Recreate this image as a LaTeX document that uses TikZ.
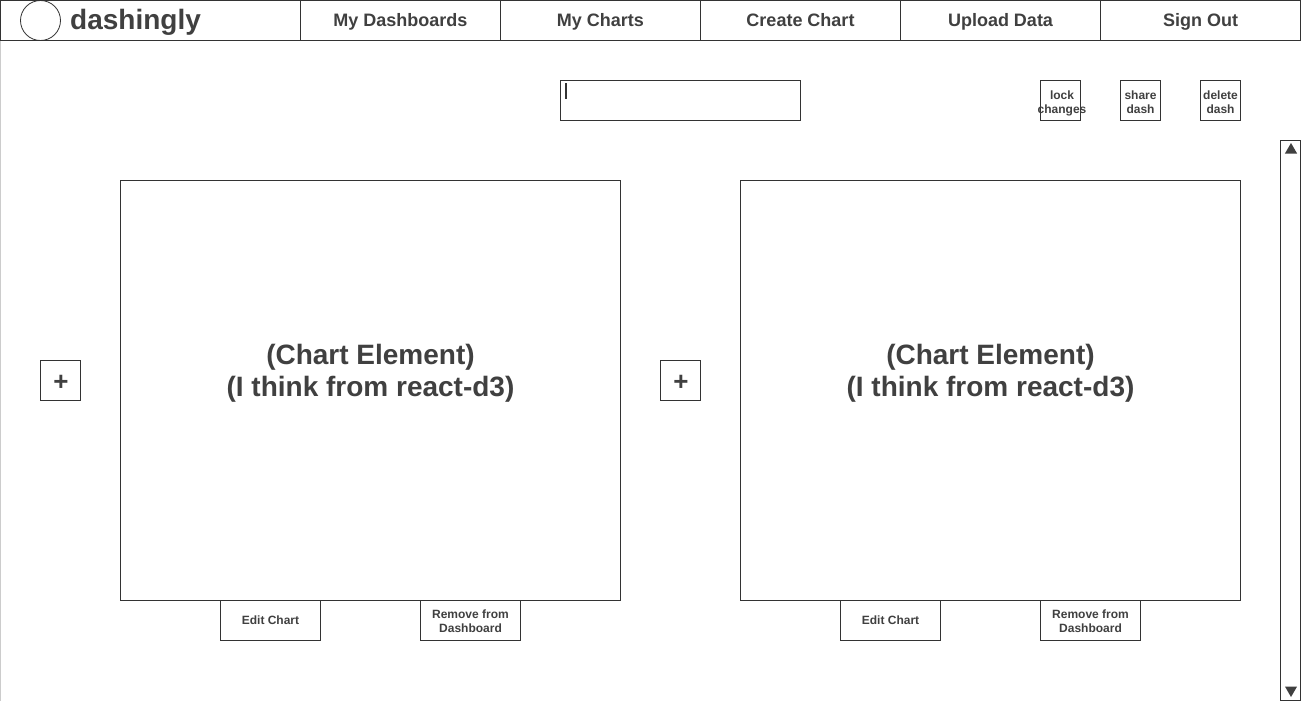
\documentclass[tikz,border=0pt]{standalone}
\usepackage{fontspec}
\setmainfont{Liberation Sans}
\usetikzlibrary{shapes.geometric}
\definecolor{txt}{HTML}{404040}
\definecolor{ln}{HTML}{333333}
\tikzset{
  box/.style={draw=ln, line width=0.8pt, fill=white, inner sep=0pt},
  navtxt/.style={text=txt, font=\bfseries\fontsize{18}{20}\selectfont, anchor=base, inner sep=0pt},
  smalltxt/.style={text=txt, font=\bfseries\fontsize{12}{14}\selectfont, align=center},
  bigtxt/.style={text=txt, font=\bfseries\fontsize{28}{32}\selectfont, align=center},
  plustxt/.style={text=txt, font=\bfseries\fontsize{26}{28}\selectfont},
  tri/.style={regular polygon, regular polygon sides=3, fill=txt, draw=none, inner sep=0pt, minimum size=14pt}
}
\begin{document}
\begin{tikzpicture}[x=1pt,y=-1pt]
\useasboundingbox (0,0) rectangle (1305,701);
% left page edge
\draw[gray!40, line width=0.8pt] (0.5,40) -- (0.5,701);
% header
\draw[box] (0.5,0.5) rectangle (1300.5,40.5);
\foreach \x in {300,500,700,900,1100} \draw[ln, line width=0.8pt] (\x.5,0.5) -- (\x.5,40.5);
\node[draw=ln, circle, line width=0.8pt, minimum size=40pt, inner sep=0pt] (logo) at (40.5,20.5) {};
\node[text=txt, font=\bfseries\fontsize{28}{32}\selectfont, anchor=base west, inner sep=0pt] (brand) at (70,30) {dashingly};
\node[navtxt] (n1) at (400.5,27) {My Dashboards};
\node[navtxt] (n2) at (600.5,26.5) {My Charts};
\node[navtxt] (n3) at (800.5,27) {Create Chart};
\node[navtxt] (n4) at (1000.5,27) {Upload Data};
\node[navtxt] (n5) at (1200.5,27) {Sign Out};
% input box
\draw[box] (560.5,80.5) rectangle (800.5,120.5);
\draw[ln, line width=1.5pt] (566,83) -- (566,99);
% small buttons
\draw[box] (1040.5,80.5) rectangle (1080.5,120.5);
\node[smalltxt] (lock) at (1062,103) {lock\\changes};
\draw[box] (1120.5,80.5) rectangle (1160.5,120.5);
\node[smalltxt] (share) at (1140.5,102) {share\\dash};
\draw[box] (1200.5,80.5) rectangle (1240.5,120.5);
\node[smalltxt] (del) at (1220.5,102) {delete\\dash};
% scrollbar
\draw[box] (1280.5,140.5) rectangle (1300.5,700.5);
\node[tri] (up) at (1291,150) {};
\node[tri, shape border rotate=180] (down) at (1291,690) {};
% charts
\draw[box] (120.5,180.5) rectangle (620.5,600.5);
\node[bigtxt] (c1) at (370.5,373) {(Chart Element)\\(I think from react-d3)};
\draw[box] (740.5,180.5) rectangle (1240.5,600.5);
\node[bigtxt] (c2) at (990.5,373) {(Chart Element)\\(I think from react-d3)};
% plus buttons
\draw[box] (40.5,360.5) rectangle (80.5,400.5);
\node[plustxt] (p1) at (61,382.5) {+};
\draw[box] (660.5,360.5) rectangle (700.5,400.5);
\node[plustxt] (p2) at (681,382.5) {+};
% bottom buttons
\draw[box] (220.5,600.5) rectangle (320.5,640.5);
\node[smalltxt] (e1) at (270.5,620) {Edit Chart};
\draw[box] (420.5,600.5) rectangle (520.5,640.5);
\node[smalltxt] (r1) at (470.5,621) {Remove from\\Dashboard};
\draw[box] (840.5,600.5) rectangle (940.5,640.5);
\node[smalltxt] (e2) at (890.5,620) {Edit Chart};
\draw[box] (1040.5,600.5) rectangle (1140.5,640.5);
\node[smalltxt] (r2) at (1090.5,621) {Remove from\\Dashboard};
\end{tikzpicture}
\end{document}
